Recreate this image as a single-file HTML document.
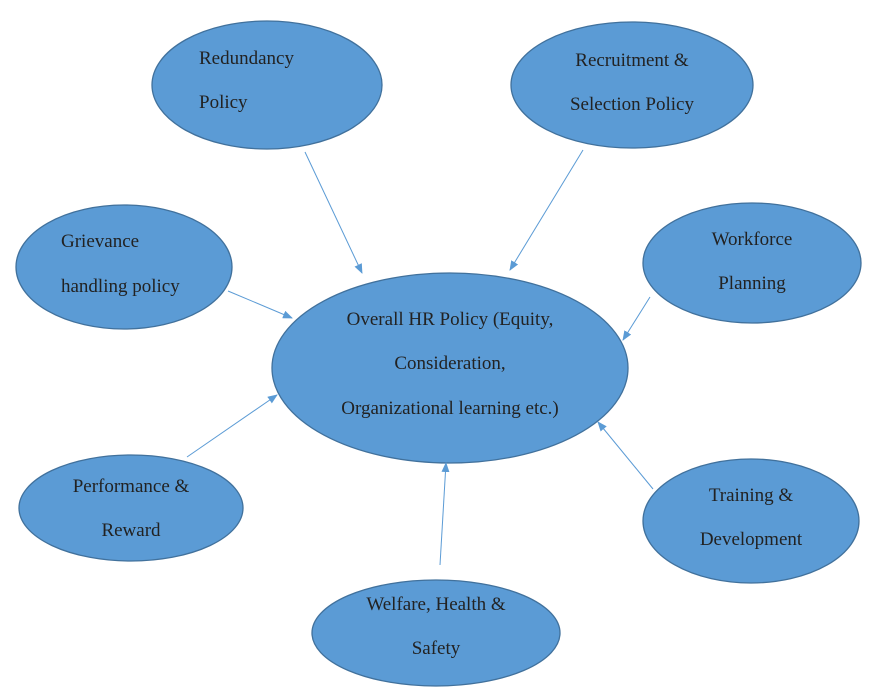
<!DOCTYPE html>
<html><head><style>body{margin:0;background:#fff}svg{display:block}text{font-family:"Liberation Serif",serif;font-size:19px;fill:#222}</style></head><body>
<svg width="880" height="693" viewBox="0 0 880 693">
<defs><marker id="a" markerWidth="10" markerHeight="8" refX="9" refY="4" orient="auto" markerUnits="userSpaceOnUse"><path d="M0,0L10,4L0,8z" fill="#5b9bd5"/></marker></defs>
<g fill="#5b9bd5" stroke="#41719c" stroke-width="1.3">
<ellipse cx="267" cy="85" rx="115" ry="64"/>
<ellipse cx="632" cy="85" rx="121" ry="63"/>
<ellipse cx="124" cy="267" rx="108" ry="62"/>
<ellipse cx="752" cy="263" rx="109" ry="60"/>
<ellipse cx="450" cy="368" rx="178" ry="95"/>
<ellipse cx="131" cy="508" rx="112" ry="53"/>
<ellipse cx="751" cy="521" rx="108" ry="62"/>
<ellipse cx="436" cy="633" rx="124" ry="53"/>
</g>
<g stroke="#5b9bd5" stroke-width="1" marker-end="url(#a)">
<line x1="305" y1="152" x2="362" y2="273"/>
<line x1="583" y1="150" x2="510" y2="270"/>
<line x1="228" y1="291" x2="292" y2="318"/>
<line x1="650" y1="297" x2="623" y2="340"/>
<line x1="187" y1="457" x2="277" y2="395"/>
<line x1="440" y1="565" x2="446" y2="463"/>
<line x1="653" y1="489" x2="598" y2="422"/>
</g>
<text x="199" y="64">Redundancy</text><text x="199" y="108">Policy</text>
<text x="632" y="66" text-anchor="middle">Recruitment &amp;</text><text x="632" y="110" text-anchor="middle">Selection Policy</text>
<text x="61" y="247">Grievance</text><text x="61" y="292">handling policy</text>
<text x="752" y="245" text-anchor="middle">Workforce</text><text x="752" y="289" text-anchor="middle">Planning</text>
<text x="450" y="325" text-anchor="middle">Overall HR Policy (Equity,</text><text x="450" y="369" text-anchor="middle">Consideration,</text><text x="450" y="414" text-anchor="middle">Organizational learning etc.)</text>
<text x="131" y="492" text-anchor="middle">Performance &amp;</text><text x="131" y="536" text-anchor="middle">Reward</text>
<text x="751" y="501" text-anchor="middle">Training &amp;</text><text x="751" y="545" text-anchor="middle">Development</text>
<text x="436" y="610" text-anchor="middle">Welfare, Health &amp;</text><text x="436" y="654" text-anchor="middle">Safety</text>
</svg></body></html>
